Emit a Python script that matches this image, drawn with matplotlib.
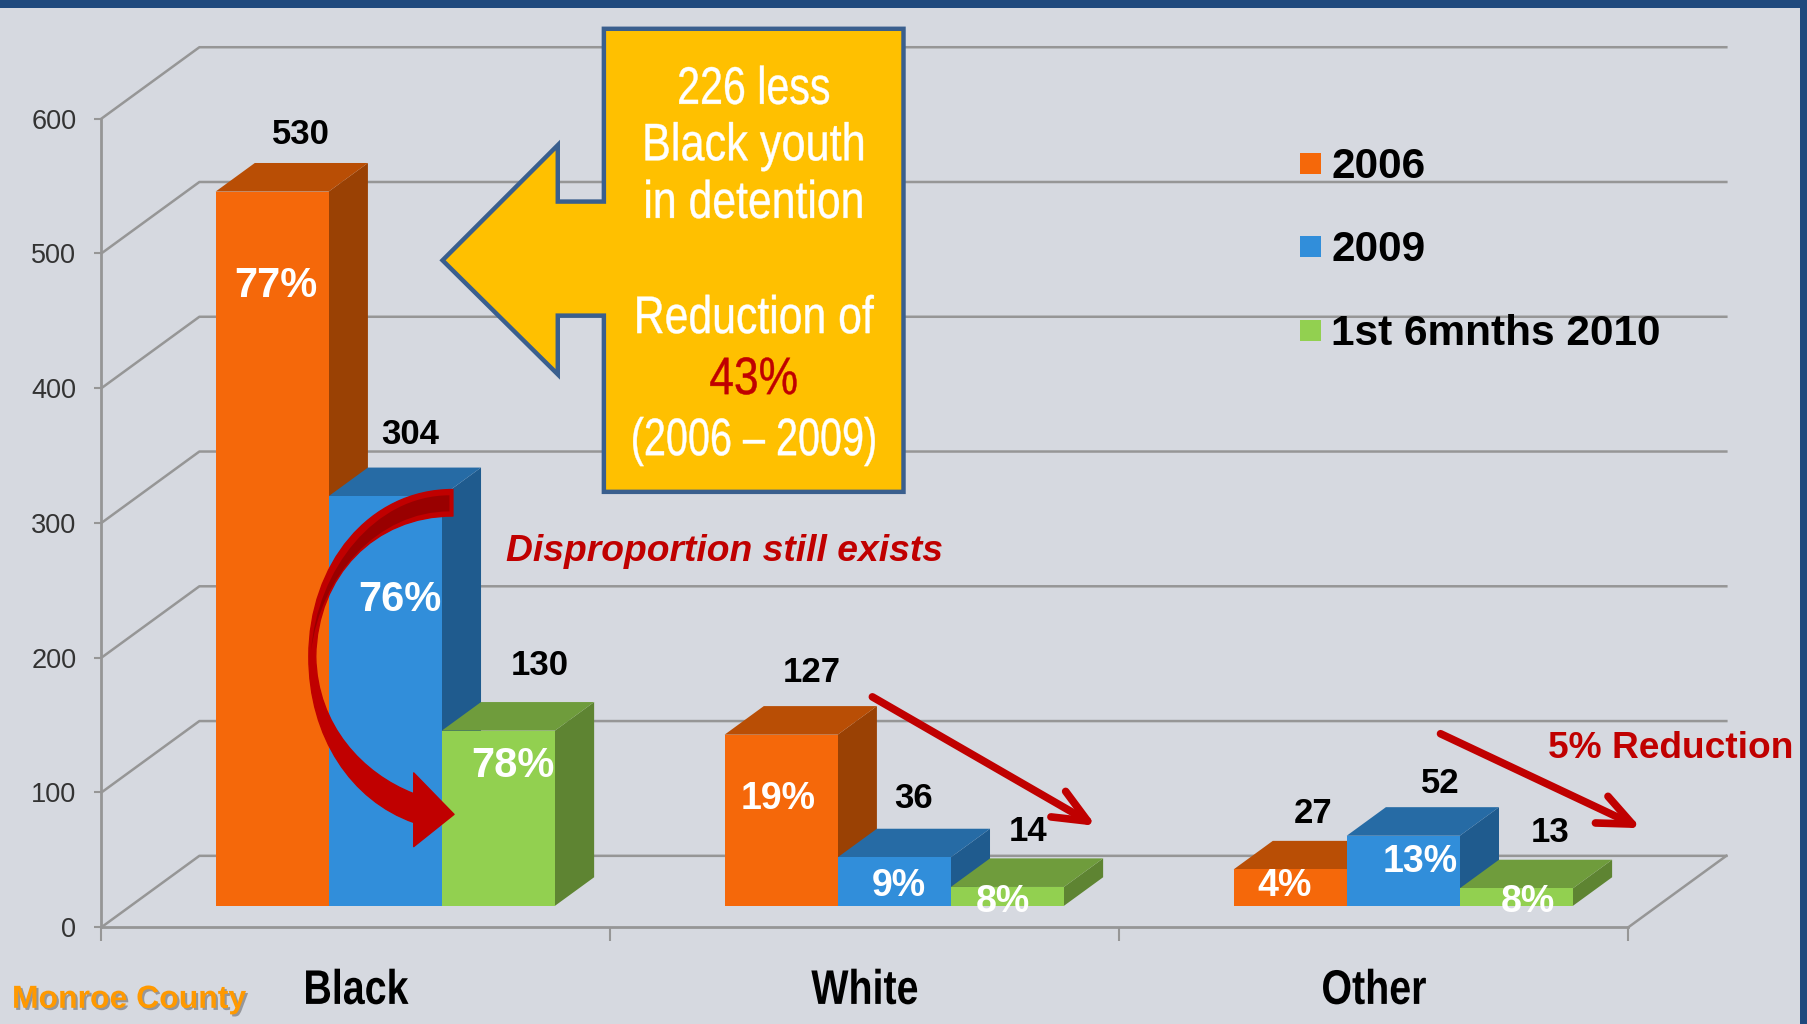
#!/usr/bin/env python3
"""Monroe County detention by race: faux-3D bars with callouts."""

import matplotlib
matplotlib.use("Agg")
import matplotlib.pyplot as plt
import matplotlib.patheffects as pe
from matplotlib.patches import Polygon, PathPatch, Rectangle
from matplotlib.path import Path
from matplotlib.transforms import Affine2D

categories = ["Black", "White", "Other"]
series_names = ["2006", "2009", "1st 6mnths 2010"]
values_2006 = [530, 127, 27]
values_2009 = [304, 36, 52]
values_2010 = [130, 14, 13]
pct_2006 = ["77%", "19%", "4%"]
pct_2009 = ["76%", "9%", "13%"]
pct_2010 = ["78%", "8%", "8%"]
y_ticks = [0, 100, 200, 300, 400, 500, 600]

# overlay coords are the 1568x889 view of the picture
W, H = 1568, 889
AX_L, AX_R, AX_B, AX_T = 88, 1413, 805, 103
DEPTH_PX = (85, 62)

BG = "#D6D9E0"
NAVY = "#1F497D"
GRID = "#969696"
RED = "#C00000"
SANS = "Liberation Sans"

# (front, top, side)
COLORS = [
    ("#F5680A", "#B94E05", "#9A4104"),
    ("#318EDA", "#266BA5", "#1F5B8E"),
    ("#92D050", "#6F9C3C", "#5E8432"),
]

# hand placed labels in the original, centre of each text
VALUE_POS = [[(261, 117), (704, 584), (1139, 706)],
             [(356, 377), (793, 693), (1250, 680)],
             [(468, 578), (892, 722), (1345, 723)]]
PCT_POS = [[(239, 248), (675, 694), (1115, 769)],
           [(347, 521), (780, 769), (1232, 748)],
           [(445, 665), (870, 783), (1326, 783)]]
PCT_SIZE = [[30, 27, 27], [30, 27, 27], [30, 27, 27]]


class Squeeze(pe.AbstractPathEffect):
    """No narrow font here, so squash the glyphs around a display x."""

    def __init__(self, sx, cx, stroke=0.0):
        super().__init__()
        self.sx = sx
        self.cx = cx
        self.stroke = stroke

    def draw_path(self, renderer, gc, tpath, affine, rgbFace=None):
        squash = Affine2D().translate(-self.cx, 0).scale(self.sx, 1).translate(self.cx, 0)
        gc0 = renderer.new_gc()
        gc0.copy_properties(gc)
        gc0.set_linewidth(self.stroke)
        if self.stroke > 0:
            gc0.set_foreground(rgbFace)
        renderer.draw_path(gc0, tpath, affine + squash, rgbFace)
        gc0.restore()


fig = plt.figure(figsize=(18.07, 10.24), dpi=100, facecolor=BG)
ax = fig.add_axes([AX_L / W, 1 - AX_B / H, (AX_R - AX_L) / W, (AX_B - AX_T) / H])
ax.set_facecolor("none")
ax.set_xlim(0, 3)
ax.set_ylim(0, 600)

# one unit of depth, in data units
DX = DEPTH_PX[0] / ((AX_R - AX_L) / 3)
DY = DEPTH_PX[1] / ((AX_B - AX_T) / 600)


def proj(x, y, d):
    return (x + d * DX, y + d * DY)


def draw_bar(x0, x1, v, colors, z):
    d0, d1 = 0.3, 0.7
    front, top, side = colors
    ax.add_patch(Polygon([proj(x1, 0, d0), proj(x1, 0, d1), proj(x1, v, d1), proj(x1, v, d0)],
                         fc=side, ec="none", zorder=z, clip_on=False))
    ax.add_patch(Polygon([proj(x0, v, d0), proj(x1, v, d0), proj(x1, v, d1), proj(x0, v, d1)],
                         fc=top, ec="none", zorder=z, clip_on=False))
    ax.add_patch(Polygon([proj(x0, 0, d0), proj(x1, 0, d0), proj(x1, v, d0), proj(x0, v, d0)],
                         fc=front, ec="none", zorder=z, clip_on=False))


# walls and floor
for t in y_ticks:
    xs = [0, DX, 3 + DX]
    ys = [t, t + DY, t + DY]
    ax.plot(xs, ys, color=GRID, lw=1.8, zorder=1, clip_on=False)
ax.plot([3, 3 + DX], [0, DY], color=GRID, lw=1.8, zorder=1, clip_on=False)

bar_w = 2 / 9
all_values = [values_2006, values_2009, values_2010]
z = 3
for c in range(len(categories)):
    for s, vals in enumerate(all_values):
        x0 = c + 1 / 6 + s * bar_w
        draw_bar(x0, x0 + bar_w, vals[c], COLORS[s], z)
        z += 1

for side in ["top", "right"]:
    ax.spines[side].set_visible(False)
for side in ["left", "bottom"]:
    ax.spines[side].set_color(GRID)
    ax.spines[side].set_linewidth(2)

ax.set_yticks(y_ticks)
ax.tick_params(axis="y", length=5, width=1.5, color=GRID, labelsize=19.5, labelcolor="#333333", pad=13)
for lab in ax.get_yticklabels():
    lab.set_fontfamily(SANS)
ax.set_xticks([0, 1, 2, 3])
ax.set_xticklabels([])
ax.tick_params(axis="x", which="major", length=10, width=1.5, color=GRID)
ax.set_xticks([0.5, 1.5, 2.5], categories, minor=True)
ax.tick_params(axis="x", which="minor", length=0, pad=30)
for i, lab in enumerate(ax.get_xticklabels(minor=True)):
    lab.set_fontfamily(SANS)
    lab.set_fontweight("bold")
    lab.set_fontsize(35)
    lab.set_color("black")
    cx = ax.transData.transform((i + 0.5, 0))[0]
    lab.set_path_effects([Squeeze(0.81, cx)])

# overlay for the annotations
ov = fig.add_axes([0, 0, 1, 1])
ov.set_xlim(0, W)
ov.set_ylim(H, 0)
ov.axis("off")
ov.patch.set_alpha(0)

ov.add_patch(Rectangle((0, 0), W, 7, fc=NAVY, ec="none", zorder=20))
ov.add_patch(Rectangle((1562, 0), 6, H, fc=NAVY, ec="none", zorder=20))

all_pct = [pct_2006, pct_2009, pct_2010]
for s, vals in enumerate(all_values):
    for c, v in enumerate(vals):
        x, y = VALUE_POS[s][c]
        ov.text(x, y, str(v), ha="center", va="center", fontsize=25, fontweight="bold",
                family=SANS, color="black", zorder=30)
        x, y = PCT_POS[s][c]
        ov.text(x, y, all_pct[s][c], ha="center", va="center", fontsize=PCT_SIZE[s][c],
                fontweight="bold", family=SANS, color="white", zorder=30)

# legend
for s, (name, y) in enumerate(zip(series_names, [142, 214, 287])):
    ov.add_patch(Rectangle((1128, y - 9), 18, 18, fc=COLORS[s][0], ec="none", zorder=10))
    ov.text(1155, y + 3, name, ha="left", va="center", fontsize=30.5, fontweight="bold",
            family=SANS, color="black", zorder=10)

# big callout box with its arrow
callout = [(524, 25), (784, 25), (784, 427), (524, 427), (524, 274), (484, 274), (484, 325),
           (384, 226), (484, 126), (484, 175), (524, 175)]
ov.add_patch(Polygon(callout, closed=True, fc="#FFC000", ec="#3A5F8E", lw=3.2, zorder=15,
                     joinstyle="miter"))
callout_lines = [("226 less", 78, "white", 0.78), ("Black youth", 127, "white", 0.82),
                 ("in detention", 177, "white", 0.81), ("Reduction of", 277, "white", 0.81),
                 ("43%", 330, RED, 0.84), ("(2006 – 2009)", 383, "white", 0.75)]
callout_cx = ov.transData.transform((654, 0))[0]
for txt, y, col, sx in callout_lines:
    ov.text(654, y, txt, ha="center", va="center", fontsize=38, family=SANS, color=col, zorder=16,
            path_effects=[Squeeze(sx, callout_cx, stroke=0.3)])

# curved arrow across the Black bars
M, C, L, Z = Path.MOVETO, Path.CURVE4, Path.LINETO, Path.CLOSEPOLY
verts = [(393, 425),
         (320, 425), (268, 490), (268, 570),
         (268, 640), (305, 695), (359, 714),
         (359, 735), (394, 707), (359, 671), (359, 689),
         (315, 672), (275, 630), (274, 570),
         (275, 500), (325, 448), (393, 448),
         (393, 425)]
codes = [M, C, C, C, C, C, C, L, L, L, L, C, C, C, C, C, C, Z]
ov.add_patch(PathPatch(Path(verts, codes), fc=RED, ec=RED, lw=1, joinstyle="round", zorder=12))
verts = [(390, 430),
         (325, 430), (275, 495), (270, 565),
         (278, 500), (328, 444), (390, 444),
         (390, 430)]
codes = [M, C, C, C, C, C, C, Z]
ov.add_patch(PathPatch(Path(verts, codes), fc="#990000", ec="none", zorder=13))

# straight arrows
for start, end in [((757, 605), (951, 717)), ((1250, 637), (1424, 719))]:
    ov.annotate("", xy=end, xytext=start, zorder=12,
                arrowprops=dict(arrowstyle="->,head_length=1.22,head_width=0.53", mutation_scale=20,
                                lw=5.5, color=RED, shrinkA=0, shrinkB=0))

ov.text(629, 479, "Disproportion still exists", ha="center", va="center", fontsize=26.8,
        fontweight="bold", fontstyle="italic", family=SANS, color=RED, zorder=30)
ov.text(1450, 650, "5% Reduction", ha="center", va="center", fontsize=26.7, fontweight="bold",
        family=SANS, color=RED, zorder=30)
ov.text(112, 868, "Monroe County", ha="center", va="center", fontsize=23, fontweight="bold",
        family=SANS, color="#FF9900", zorder=30,
        path_effects=[pe.SimplePatchShadow(offset=(1.5, -1.5), alpha=0.5, shadow_rgbFace="#555555"),
                      pe.Normal()])

fig.savefig("out.png", dpi=100, facecolor=BG)
